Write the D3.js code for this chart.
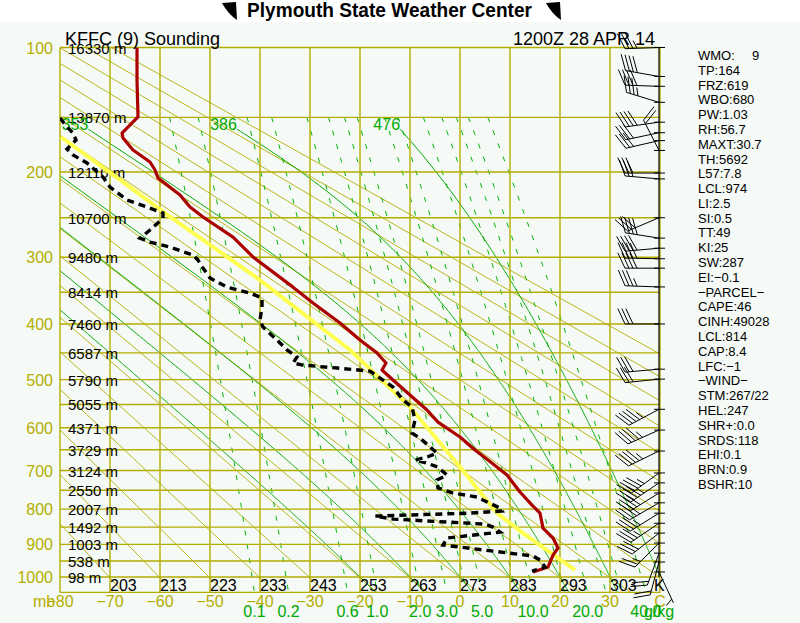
<!DOCTYPE html>
<html lang="en">
<head>
<meta charset="UTF-8">
<title>Sounding</title>
<script src="https://d3js.org/d3.v7.min.js"></script>
<style>
  body{margin:0;background:#fff;}
  text{font-family:"Liberation Sans", Arial, sans-serif;}
</style>
</head>
<body>
<div id="chart"></div>
<script>
// SOUNDING DATA (pressure mb, temperature C)
const tempP = [100,121.5,149.7,163.3,167.7,178.6,190.0,197.9,206.1,224.2,237.6,249.2,273.7,299.6,342.3,366.3,398.4,427.2,450.2,468.5,481.6,500.8,530.6,561.6,587.4,620.7,650.6,674.3,711.2,754.5,789.0,810.8,852.6,881.3,910.7,932,968.7,984.3];
const tempC = [-64.6,-64.6,-64.4,-67.6,-67.4,-65.4,-62.0,-61.0,-60.4,-56.0,-54.0,-51.4,-45.4,-41.4,-33.4,-29.4,-24.0,-20.0,-16.6,-14.8,-15.6,-13.4,-10.0,-6.6,-4.4,0.0,3.0,5.6,9.4,12.0,14.4,16.0,16.6,18.6,19.6,18.6,17.6,14.6];

const dewP = [150.5,158.1,163.3,169.5,174.9,177.7,183.3,191.0,205.1,215.5,229.6,237.6,244.5,250.4,264.9,275.0,280.0,286.5,297.1,303.9,314.9,329.0,342.3,351.1,358.7,372.7,393.6,405.2,427.2,444.8,457.5,468.5,472.3,477.9,483.6,497.0,514.6,540.8,555.3,583.0,611.8,623.1,657.9,667.4,674.3,681.9,691.6,711.2,723.4,743.9,757.0,767.7,797.1,805.2,810.8,819.0,827.4,841.4,849.9,864.2,881.3,901.8,934.7,947.0,968.7,981.1];
const dewC = [-80.0,-78.6,-77.4,-76.8,-78.0,-78.6,-77.4,-74.6,-71.4,-70.0,-66.6,-62.6,-59.4,-59.4,-62.0,-64.0,-62.0,-58.0,-53.4,-52.4,-51.4,-50.0,-46.6,-42.0,-39.6,-39.6,-40.0,-39.4,-36.6,-34.6,-32.6,-33.4,-31.4,-24.6,-18.0,-16.0,-13.4,-11.4,-9.6,-9.0,-9.6,-8.0,-4.6,-6.6,-9.0,-6.6,-4.4,-2.6,-4.6,-4.4,-1.4,3.4,8.0,8.4,2.0,-17.0,-13.4,5.0,6.6,8.0,-2.6,-3.4,14.6,16.0,17.0,14.4];

const parcelP = [978,867.1,810.8,681.9,555.3,444.8,331.9,244.5,208.1,166.8];
const parcelC = [23.0,12.6,7.4,-0.6,-10.0,-22.0,-40.0,-59.0,-68.0,-79.8];

// WINDS (mb, deg, kt)
const windP = [100,119,126,138,154,163,170,179,201,207,250,275,288,302,315,342,400,480,499,560,605,653,706,731,757,783,811,839,867,896,926,953,984];
const windDir = [268,280,272,287,262,258,257,333,270,275,247,279,265,271,270,272,270,265,264,242,246,244,234,236,238,240,238,236,232,225,200,195,155];
const windKt = [35,40,40,35,40,30,30,20,30,30,30,40,40,40,40,35,30,30,30,45,45,45,45,45,40,40,35,35,30,25,20,20,5];

// CHART FURNITURE
const isobars = [100,150,200,250,300,350,400,450,500,550,600,650,700,750,800,850,900,950,1000,1050];
const pLabels = [100,200,300,400,500,600,700,800,900,1000];
const hLevels = [100,150,200,250,300,350,400,450,500,550,600,650,700,750,800,850,900,950,1000];
const hLabels = ["16330","13870","12110","10700","9480","8414","7460","6587","5790","5055","4371","3729","3124","2550","2007","1492","1003","538","98"];
const isotherms = [-80,-70,-60,-50,-40,-30,-20,-10,0,10,20,30,40];
const tLabels = [-80,-70,-60,-50,-40,-30,-20,-10,0,10,20,30];
const kLabels = ["203","213","223","233","243","253","263","273","283","293","303"];
const kTemps = [-70,-60,-50,-40,-30,-20,-10,0,10,20,30];
const thetas = [203,213,223,233,243,253,263,273,283,293,303,313,323,333,343,353,363,373,383,393];
const moistTw = [-20,-10,0,10,20,30,40];
const moistLabTw = [20,30,40];
const moistLabText = ["353","386","476"];
const mixRatios = [0.1,0.2,0.6,1,2,3,4,5,8,10,15,20,25,30,40];
const mixLabels = ["0.1","0.2","0.6","1.0","2.0","3.0","5.0","10.0","20.0","40.0"];
const mixLabelVals = [0.1,0.2,0.6,1,2,3,5,10,20,40];
const stats = ["WMO:","TP:164","FRZ:619","WBO:680","PW:1.03","RH:56.7","MAXT:30.7","TH:5692","L57:7.8","LCL:974","LI:2.5","SI:0.5","TT:49","KI:25","SW:287","EI:\u22120.1","\u2212PARCEL\u2212","CAPE:46","CINH:49028","LCL:814","CAP:8.4","LFC:\u22121","\u2212WIND\u2212","STM:267/22","HEL:247","SHR+:0.0","SRDS:118","EHI:0.1","BRN:0.9","BSHR:10"];

// CONSTANTS
const W = 800, H = 623;
const olive = "#b3ad00";
const green = "#00a800";
const K = 0.286;

const x = d3.scaleLinear().domain([-80, 40]).range([60, 660]);
const y = d3.scalePow().exponent(K).domain([100, 1000]).range([47.5, 577]);
const pTop = 100, pBot = 1050;

const svg = d3.select("#chart").append("svg").attr("width", W).attr("height", H);
svg.append("rect").attr("width", W).attr("height", H).attr("fill", "#f5faf6");
svg.append("rect").attr("width", W).attr("height", 22).attr("fill", "#fff");

svg.append("clipPath").attr("id", "plot")
  .append("rect").attr("x", x(-80)).attr("y", y(pTop))
  .attr("width", x(40) - x(-80)).attr("height", y(pBot) - y(pTop));

const line = d3.line().x(d => x(d[1])).y(d => y(d[0]));
const zip = (a, b) => a.map((v, i) => [v, b[i]]);

// THERMO HELPERS
function mixT(w, p) {
  const e = w * p / (622 + w);
  const l = Math.log(e / 6.112);
  return 243.5 * l / (17.67 - l);
}
function dTdp(p, T) {
  const Rd = 287.04, cp = 1005.7, Lv = 2.501e6, eps = 0.622;
  const tc = T - 273.15;
  const es = 6.112 * Math.exp(17.67 * tc / (tc + 243.5));
  const rs = eps * es / (p - es);
  return (Rd * T + Lv * rs) / (cp + Lv * Lv * rs * eps / (Rd * T * T)) / p;
}
function moistPath(tw) {
  const up = [[1000, tw]];
  let T = tw + 273.15;
  for (let p = 1000; p > 160; p -= 2) {
    const k1 = dTdp(p, T);
    const k2 = dTdp(p - 1, T - k1);
    T -= 2 * k2;
    up.push([p - 2, T - 273.15]);
  }
  const down = [];
  T = tw + 273.15;
  for (let p = 1000; p < pBot; p += 2) {
    const k1 = dTdp(p, T);
    const k2 = dTdp(p + 1, T + k1);
    T += 2 * k2;
    down.push([p + 2, T - 273.15]);
  }
  return down.reverse().concat(up);
}

const grid = svg.append("g").attr("clip-path", "url(#plot)");
const pSteps = d3.range(pTop, pBot + 1, 10);

// DRY ADIABATS
grid.selectAll(".dry").data(thetas).join("path")
  .attr("d", th => line(pSteps.map(p => [p, th * Math.pow(p / 1000, K) - 273.15])))
  .attr("fill", "none").attr("stroke", olive).attr("stroke-width", 0.9);

// MIXING RATIO
grid.selectAll(".mix").data(mixRatios).join("path")
  .attr("d", w => line(d3.range(150, pBot + 1, 10).map(p => [p, mixT(w, p)])))
  .attr("fill", "none").attr("stroke", "#00b400").attr("stroke-width", 1)
  .attr("stroke-dasharray", "5,9");

// MOIST ADIABATS
const moistLines = moistTw.map(moistPath);
grid.selectAll(".moist").data(moistLines).join("path")
  .attr("d", line)
  .attr("fill", "none").attr("stroke", green).attr("stroke-width", 1);

// ISOBARS / ISOTHERMS
svg.selectAll(".isobar").data(isobars).join("line")
  .attr("x1", x(-80)).attr("x2", x(40)).attr("y1", d => y(d)).attr("y2", d => y(d))
  .attr("stroke", olive).attr("stroke-width", 1.4);
svg.selectAll(".isotherm").data(isotherms).join("line")
  .attr("x1", d => x(d)).attr("x2", d => x(d)).attr("y1", y(pTop)).attr("y2", y(pBot))
  .attr("stroke", olive).attr("stroke-width", 1.4);

// LABELS
svg.selectAll(".plab").data(pLabels).join("text")
  .attr("x", 53).attr("y", d => y(d) + 6).attr("text-anchor", "end")
  .attr("font-size", 16).attr("fill", olive).text(d => d);
svg.selectAll(".hlab").data(hLevels).join("text")
  .attr("x", 68).attr("y", d => y(d) + 6)
  .attr("font-size", 15).attr("fill", "#000").text((d, i) => hLabels[i] + " m");
svg.selectAll(".tlab").data(tLabels).join("text")
  .attr("x", d => x(d)).attr("y", 607).attr("text-anchor", "middle")
  .attr("font-size", 16).attr("fill", olive).text(d => String(d).replace("-", "\u2212"));
svg.append("text").attr("x", x(40)).attr("y", 607).attr("text-anchor", "middle")
  .attr("font-size", 16).attr("fill", olive).text("C");
svg.append("text").attr("x", 33).attr("y", 607)
  .attr("font-size", 16).attr("fill", olive).text("mb");
svg.selectAll(".klab").data(kLabels).join("text")
  .attr("x", (d, i) => x(kTemps[i])).attr("y", 591)
  .attr("font-size", 16).attr("fill", "#000").text(d => d);
svg.append("text").attr("x", x(40) - 6).attr("y", 591)
  .attr("font-size", 16).attr("fill", "#000").text("K");
svg.selectAll(".mlab").data(mixLabels).join("text")
  .attr("x", (d, i) => x(mixT(mixLabelVals[i], pBot))).attr("y", 617).attr("text-anchor", "middle")
  .attr("font-size", 16).attr("fill", green).text(d => d);
svg.append("text").attr("x", 644).attr("y", 617)
  .attr("font-size", 16).attr("fill", green).text("g/kg");
svg.selectAll(".elab").data(moistLabTw).join("text")
  .attr("x", d => { const l = moistLines[moistTw.indexOf(d)]; return x(l[l.length - 1][1]); })
  .attr("y", d => { const l = moistLines[moistTw.indexOf(d)]; return y(l[l.length - 1][0]) + 1; })
  .attr("text-anchor", "end").attr("font-size", 16).attr("fill", green)
  .text((d, i) => moistLabText[i]);

// SOUNDING LINES
const snd = svg.append("g").attr("clip-path", "url(#plot)");
snd.append("path").attr("d", line(zip(parcelP, parcelC)))
  .attr("fill", "none").attr("stroke", "#ffff50").attr("stroke-width", 4);
snd.append("path").attr("d", line(zip(tempP, tempC)))
  .attr("fill", "none").attr("stroke", "#aa0000").attr("stroke-width", 3.2)
  .attr("stroke-linejoin", "round");
snd.append("path").attr("d", line(zip(dewP, dewC)))
  .attr("fill", "none").attr("stroke", "#000").attr("stroke-width", 3.4)
  .attr("stroke-dasharray", "7,5");

// WIND STAFF + BARBS
const staffX = 659;
svg.append("line").attr("x1", staffX).attr("x2", staffX).attr("y1", y(100)).attr("y2", y(1000))
  .attr("stroke", "#000").attr("stroke-width", 1.2);
const barbs = svg.append("g").attr("stroke", "#000").attr("stroke-width", 1).attr("fill", "none");
windP.forEach((p, i) => {
  const yy = y(p);
  const a = windDir[i] * Math.PI / 180;
  const sx = Math.sin(a), sy = -Math.cos(a);
  const nx = -sy, ny = sx;
  const L = 34, bl = 17, step = 4;
  const ca = Math.cos(65 * Math.PI / 180), sa = Math.sin(65 * Math.PI / 180);
  const ex = staffX + sx * L, ey = yy + sy * L;
  barbs.append("line").attr("x1", staffX - 5).attr("x2", staffX + 6).attr("y1", yy).attr("y2", yy);
  barbs.append("line").attr("x1", staffX).attr("y1", yy).attr("x2", ex).attr("y2", ey);
  const spd = Math.round(windKt[i] / 5) * 5;
  const full = Math.floor(spd / 10), half = spd % 10 >= 5;
  let pos = 0;
  for (let k = 0; k < full; k++) {
    const bx = ex - sx * pos, by = ey - sy * pos;
    barbs.append("line").attr("x1", bx).attr("y1", by)
      .attr("x2", bx + bl * (ca * sx + sa * nx)).attr("y2", by + bl * (ca * sy + sa * ny));
    pos += step;
  }
  if (half) {
    if (pos === 0) pos = step;
    const bx = ex - sx * pos, by = ey - sy * pos;
    barbs.append("line").attr("x1", bx).attr("y1", by)
      .attr("x2", bx + bl / 2 * (ca * sx + sa * nx)).attr("y2", by + bl / 2 * (ca * sy + sa * ny));
  }
});

// STATS
svg.selectAll(".stat").data(stats).join("text")
  .attr("x", 698).attr("y", (d, i) => 60 + i * 14.79)
  .attr("font-size", 13).attr("fill", "#000").text(d => d);
svg.append("text").attr("x", 752).attr("y", 60).attr("font-size", 13).text("9");

// HEADER
svg.append("text").attr("x", 65).attr("y", 45).attr("font-size", 18).text("KFFC (9) Sounding");
svg.append("text").attr("x", 655).attr("y", 45).attr("font-size", 18).attr("text-anchor", "end")
  .text("1200Z 28 APR 14");
svg.append("text").attr("x", 247).attr("y", 17)
  .attr("font-family", "'Liberation Serif', 'Times New Roman', serif").attr("font-weight", "bold")
  .attr("font-size", 20).attr("textLength", 285).attr("lengthAdjust", "spacingAndGlyphs")
  .text("Plymouth State Weather Center");
[222, 546].forEach(ix => {
  svg.append("path")
    .attr("d", `M${ix},3 L${ix + 14},2 L${ix + 15},20 Q${ix + 6},14 ${ix},3 Z`)
    .attr("fill", "#000");
});
</script>
</body>
</html>
